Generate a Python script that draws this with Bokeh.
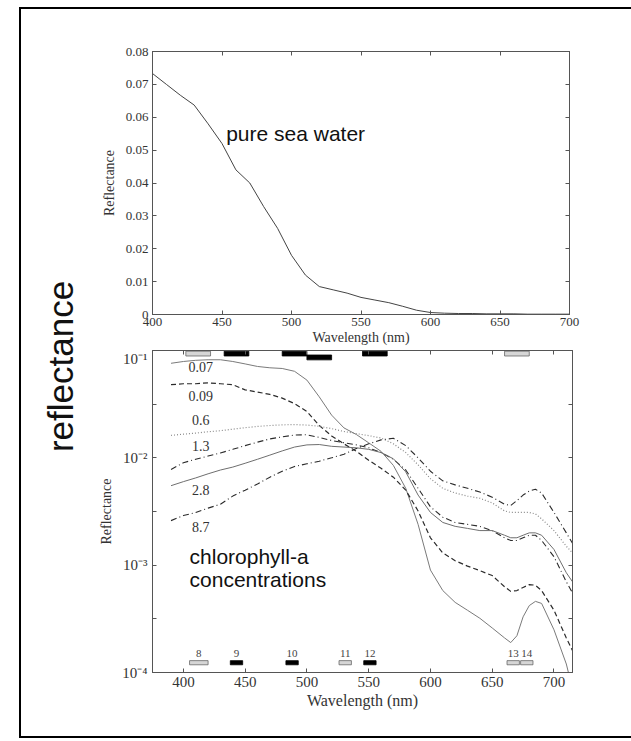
from bokeh.plotting import figure
from bokeh.models import (Range1d, LinearAxis, LogAxis, FixedTicker, Label,
                          CustomJSTickFormatter, ColumnDataSource)
from bokeh.layouts import row, column
from bokeh.embed import file_html
from bokeh.resources import INLINE

# ---------------- data: pure sea water (top panel) ----------------
water_wl = [400, 410, 420, 430, 440, 450, 460, 470, 480, 490, 500, 510, 520,
            530, 540, 550, 560, 570, 580, 590, 600, 610, 620, 630, 640, 650,
            660, 670, 680, 690, 700]
water_refl = [0.0733, 0.0700, 0.0667, 0.0637, 0.0580, 0.0520, 0.0440, 0.0400,
              0.0328, 0.0262, 0.0180, 0.0120, 0.0085, 0.0075, 0.0065, 0.0052,
              0.0044, 0.0036, 0.0025, 0.0013, 0.0006, 0.0004, 0.0003, 0.0003,
              0.0002, 0.0002, 0.0002, 0.0001, 0.0001, 0.0001, 0.0001]
top_x_ticks = [400, 450, 500, 550, 600, 650, 700]
top_y_ticks = [0, 0.01, 0.02, 0.03, 0.04, 0.05, 0.06, 0.07, 0.08]
top_y_labels = ["0", "0.01", "0.02", "0.03", "0.04", "0.05", "0.06", "0.07", "0.08"]

# ---------------- data: chlorophyll-a spectra (bottom panel) ----------------
wl = [390, 400, 410, 420, 430, 440, 450, 460, 470, 480, 490, 500, 510, 520,
      530, 540, 550, 560, 570, 580, 590, 600, 610, 620, 630, 640, 650, 660,
      665, 670, 675, 680, 685, 690, 700, 710, 715]
chl_007 = [0.076, 0.079, 0.081, 0.082, 0.082, 0.079, 0.075, 0.071, 0.069, 0.068,
           0.064, 0.053, 0.037, 0.025, 0.019, 0.0165, 0.0138, 0.0115, 0.0085,
           0.0052, 0.0024, 0.0009, 0.00058, 0.00045, 0.00038, 0.00032, 0.00026,
           0.00021, 0.00019, 0.00022, 0.00033, 0.00042, 0.00046, 0.00044,
           0.00025, 0.00012, 0.00007]
chl_009 = [0.048, 0.049, 0.049, 0.050, 0.049, 0.048, 0.043, 0.041, 0.039, 0.036,
           0.032, 0.027, 0.020, 0.016, 0.0135, 0.0115, 0.0095, 0.0080, 0.0066,
           0.0050, 0.0032, 0.0018, 0.0013, 0.0011, 0.00098, 0.00089, 0.00080,
           0.00063, 0.00057, 0.00058, 0.00062, 0.00066, 0.00065, 0.00058,
           0.00038, 0.00021, 0.00016]
chl_06 = [0.0162, 0.0166, 0.0170, 0.0175, 0.0179, 0.0185, 0.0191, 0.0196, 0.0200,
          0.0203, 0.0204, 0.0202, 0.0197, 0.0187, 0.0176, 0.0168, 0.0161, 0.0153,
          0.0135, 0.0112, 0.0086, 0.0064, 0.0052, 0.0047, 0.0044, 0.0042, 0.0038,
          0.0032, 0.0031, 0.0031, 0.0031, 0.0031, 0.0030, 0.0027, 0.0021, 0.0015,
          0.0013]
chl_13 = [0.0078, 0.0090, 0.0097, 0.0104, 0.0111, 0.0120, 0.0130, 0.0140, 0.0150,
          0.0157, 0.0163, 0.0164, 0.0155, 0.0145, 0.0138, 0.0132, 0.0124, 0.0112,
          0.0097, 0.0077, 0.0052, 0.0035, 0.0028, 0.0025, 0.0024, 0.0023, 0.0021,
          0.0018, 0.0017, 0.0017, 0.0018, 0.0019, 0.0019, 0.0017, 0.0012, 0.0007,
          0.00055]
chl_28 = [0.0055, 0.0060, 0.0065, 0.0071, 0.0077, 0.0082, 0.0089, 0.0097, 0.0106,
          0.0116, 0.0126, 0.0132, 0.0133, 0.0128, 0.0126, 0.0124, 0.0120, 0.0112,
          0.0098, 0.0074, 0.0045, 0.0031, 0.0025, 0.0023, 0.0022, 0.0021, 0.0021,
          0.0019, 0.0018, 0.0018, 0.0019, 0.0020, 0.0020, 0.0019, 0.0014, 0.00085,
          0.0007]
chl_87 = [0.0026, 0.0029, 0.0031, 0.0034, 0.0037, 0.0044, 0.0050, 0.0057, 0.0066,
          0.0075, 0.0083, 0.0088, 0.0093, 0.0100, 0.0108, 0.0122, 0.0135, 0.0147,
          0.0152, 0.0130, 0.0100, 0.0075, 0.0061, 0.0056, 0.0052, 0.0048, 0.0043,
          0.0037, 0.0036, 0.0040, 0.0045, 0.0049, 0.0051, 0.0047, 0.0031, 0.0020,
          0.0016]
conc_names = ["0.07", "0.09", "0.6", "1.3", "2.8", "8.7"]
conc_label_y = [0.0698, 0.0375, 0.0223, 0.0130, 0.0050, 0.00226]

bot_x_ticks = [400, 450, 500, 550, 600, 650, 700]
bot_y_ticks = [1e-4, 1e-3, 1e-2, 1e-1]
bot_y_labels = ["10\u207b\u2074", "10\u207b\u00b3", "10\u207b\u00b2", "10\u207b\u00b9"]
bot_y_half = [10 ** -3.5, 10 ** -2.5, 10 ** -1.5]

# sensor bands (nm): upper row (SeaWiFS), lower row (MODIS 8-14)
top_band_lo = [402, 433, 480, 500, 545, 660]
top_band_hi = [422, 453, 500, 520, 565, 680]
top_band_dark = [False, True, True, True, True, False]
top_band_row = [0, 0, 0, 1, 0, 0]
bot_band_lo = [405, 438, 483, 526, 546, 662, 673]
bot_band_hi = [420, 448, 493, 536, 556, 672, 683]
bot_band_dark = [False, True, True, False, True, False, False]
bot_band_names = ["8", "9", "10", "11", "12", "13", "14"]

# ---------------- styling helpers ----------------
SERIF = "Liberation Serif"
SANS = "Liberation Sans"
AXC = "#555555"
TXT = "#333333"


def empty_fmt():
    return CustomJSTickFormatter(code="return '';")


def list_fmt(vals, labels):
    return CustomJSTickFormatter(args=dict(tvals=vals, tlabels=labels), code="""
        for (let i = 0; i < tvals.length; i++) {
            const t = tvals[i];
            if (Math.abs(t - tick) <= 1e-9 * Math.max(1e-3, Math.abs(t))) return tlabels[i];
        }
        return '';
    """)


def style_axis(ax, size, show=True, minor=False):
    ax.axis_line_color = AXC
    ax.axis_line_width = 1
    ax.major_tick_line_color = AXC
    ax.major_tick_in = 4
    ax.major_tick_out = 0
    if minor:
        ax.minor_tick_line_color = AXC
        ax.minor_tick_in = 4
        ax.minor_tick_out = 0
    else:
        ax.minor_tick_line_color = None
    ax.major_label_text_font = SERIF
    ax.major_label_text_font_size = f"{size}px"
    ax.major_label_text_color = TXT
    ax.axis_label_text_font = SERIF
    ax.axis_label_text_font_style = "normal"
    ax.axis_label_text_color = TXT
    if not show:
        ax.formatter = empty_fmt()
        ax.major_label_text_font_size = "0px"
        ax.major_label_standoff = 0


# ---------------- top panel ----------------
p1 = figure(x_range=Range1d(400, 700), y_range=Range1d(0, 0.08),
            frame_width=417, frame_height=263,
            min_border_left=53, min_border_right=60, min_border_top=42,
            min_border_bottom=36, output_backend="svg", toolbar_location=None)
p1.grid.visible = False
p1.outline_line_color = AXC
bx = p1.below[0]
bx.ticker = FixedTicker(ticks=top_x_ticks)
style_axis(bx, 13)
bx.major_label_standoff = 3
bx.axis_label = "Wavelength (nm)"
bx.axis_label_text_font_size = "14px"
bx.axis_label_standoff = 1
ly = p1.left[0]
ly.ticker = FixedTicker(ticks=top_y_ticks)
style_axis(ly, 13)
ly.formatter = list_fmt(top_y_ticks, top_y_labels)
ly.major_label_standoff = 4
ly.axis_label = "Reflectance"
ly.axis_label_text_font_size = "14px"
ly.axis_label_standoff = 6
ra = LinearAxis(ticker=FixedTicker(ticks=top_y_ticks))
style_axis(ra, 0, show=False)
p1.add_layout(ra, "right")
ta = LinearAxis(ticker=FixedTicker(ticks=top_x_ticks))
style_axis(ta, 0, show=False)
p1.add_layout(ta, "above")

p1.line(water_wl, water_refl, line_color="#444444", line_width=1)
p1.add_layout(Label(x=453, y=0.0551, text="pure sea water", text_font=SANS,
                    text_font_size="21px", text_color="#111111",
                    text_baseline="middle", text_align="left"))

# ---------------- bottom panel ----------------
p2 = figure(x_range=Range1d(375, 715), y_range=Range1d(1e-4, 1e-1),
            y_axis_type="log", frame_width=420, frame_height=322,
            min_border_left=50, min_border_right=60, min_border_top=0,
            min_border_bottom=64, output_backend="svg", toolbar_location=None)
p2.grid.visible = False
p2.outline_line_color = AXC
bx2 = p2.below[0]
bx2.ticker = FixedTicker(ticks=bot_x_ticks)
style_axis(bx2, 15)
bx2.major_label_standoff = 4
bx2.axis_label = "Wavelength (nm)"
bx2.axis_label_text_font_size = "16px"
bx2.axis_label_standoff = 2
ly2 = p2.left[0]
ly2.ticker = FixedTicker(ticks=bot_y_ticks, minor_ticks=bot_y_half)
style_axis(ly2, 15, minor=True)
ly2.formatter = list_fmt(bot_y_ticks, bot_y_labels)
ly2.major_label_standoff = 5
ly2.axis_label = "Reflectance"
ly2.axis_label_text_font_size = "14px"
ly2.axis_label_standoff = 5
ra2 = LogAxis(ticker=FixedTicker(ticks=bot_y_ticks, minor_ticks=bot_y_half))
style_axis(ra2, 0, show=False, minor=True)
p2.add_layout(ra2, "right")
ta2 = LinearAxis(ticker=FixedTicker(ticks=bot_x_ticks))
style_axis(ta2, 0, show=False)
p2.add_layout(ta2, "above")

curves = [
    (chl_007, "#7a7a7a", "solid", 1.0),
    (chl_009, "#2b2b2b", "5 3", 1.2),
    (chl_06, "#8a8a8a", "1 2", 1.2),
    (chl_13, "#2b2b2b", "6 3 1 3", 1.1),
    (chl_28, "#6e6e6e", "solid", 1.0),
    (chl_87, "#2b2b2b", "6 3 1 3", 1.1),
]
for vals, col, dash, w in curves:
    p2.line(wl, vals, line_color=col, line_dash=dash, line_width=w)

for name, yv in zip(conc_names, conc_label_y):
    p2.add_layout(Label(x=414, y=yv, text=name, text_font=SERIF,
                        text_font_size="14px", text_color=TXT,
                        text_align="center", text_baseline="middle"))

# band markers
GREY_FILL = "#d6d6d6"
top_src = ColumnDataSource(dict(
    left=top_band_lo, right=top_band_hi,
    top=[0.0985 if r == 0 else 0.0908 for r in top_band_row],
    bottom=[0.0889 if r == 0 else 0.0818 for r in top_band_row],
    fill=["#000000" if d else GREY_FILL for d in top_band_dark],
    line=["#000000" if d else "#666666" for d in top_band_dark],
))
p2.quad(left="left", right="right", top="top", bottom="bottom", source=top_src,
        fill_color="fill", line_color="line", line_width=0.8)
bot_src = ColumnDataSource(dict(
    left=bot_band_lo, right=bot_band_hi,
    top=[1.29e-4] * len(bot_band_lo), bottom=[1.18e-4] * len(bot_band_lo),
    fill=["#000000" if d else GREY_FILL for d in bot_band_dark],
    line=["#000000" if d else "#666666" for d in bot_band_dark],
))
p2.quad(left="left", right="right", top="top", bottom="bottom", source=bot_src,
        fill_color="fill", line_color="line", line_width=0.8)
for lo, hi, nm in zip(bot_band_lo, bot_band_hi, bot_band_names):
    p2.add_layout(Label(x=(lo + hi) / 2, y=1.5e-4, text=nm, text_font=SERIF,
                        text_font_size="11px", text_color="#444444",
                        text_align="center", text_baseline="middle"))

p2.add_layout(Label(x=405, y=0.00120, text="chlorophyll-a", text_font=SANS,
                    text_font_size="21px", text_color="#111111",
                    text_align="left", text_baseline="middle"))
p2.add_layout(Label(x=405, y=0.000734, text="concentrations", text_font=SANS,
                    text_font_size="21px", text_color="#111111",
                    text_align="left", text_baseline="middle"))

# ---------------- side panel with the big axis word ----------------
SIDE_H = 727
side = figure(x_range=Range1d(0, 75), y_range=Range1d(0, SIDE_H),
              frame_width=75, frame_height=SIDE_H, min_border=0,
              x_axis_location=None, y_axis_location=None,
              output_backend="svg", toolbar_location=None)
side.grid.visible = False
side.outline_line_color = None
side.add_layout(Label(x=39, y=SIDE_H - 357, text="reflectance", angle=90,
                      angle_units="deg", text_font=SANS, text_font_size="35px",
                      text_color="#111111", text_align="center",
                      text_baseline="middle"))

charts = column(p1, p2, spacing=0)
page = row(side, charts, spacing=0,
           styles={"border": "2px solid #000000", "margin-left": "19px",
                   "margin-top": "7px"})

open("out.html", "w").write(file_html(page, INLINE))
